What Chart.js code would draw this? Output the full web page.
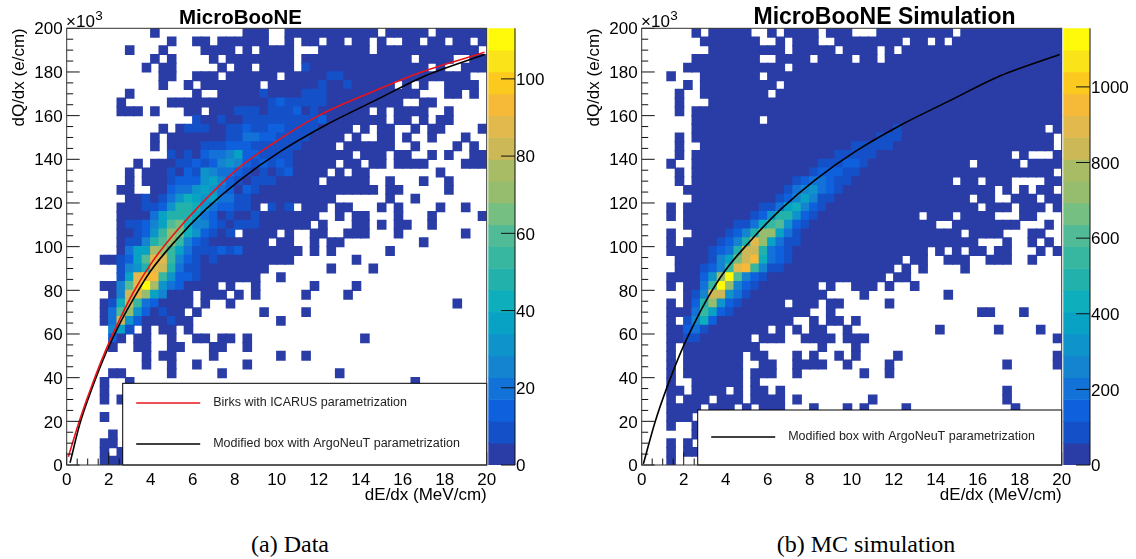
<!DOCTYPE html>
<html lang="en">
<head>
<meta charset="UTF-8">
<title>MicroBooNE dQ/dx vs dE/dx</title>
<script src="https://cdn.jsdelivr.net/npm/chart.js@4"></script>
<style>
  html, body { margin: 0; padding: 0; background: #fff; overflow: hidden; }
  canvas { position: absolute; top: 0; }
  .caption { position: absolute; top: 531px; font: 24px "Liberation Serif", serif; color: #000; transform: translateX(-50%); white-space: nowrap; }
</style>
</head>
<body>
<canvas id="dataChart" width="510" height="510" style="left:0"></canvas>
<canvas id="dataBar" width="70" height="480" style="left:488px"></canvas>
<canvas id="simChart" width="510" height="510" style="left:575px"></canvas>
<canvas id="simBar" width="70" height="480" style="left:1063px"></canvas>
<div class="caption" style="left:290px">(a) Data</div>
<div class="caption" style="left:866px">(b) MC simulation</div>
<script>
// each row is one dQ/dx bin from the top (200) down, each char one dE/dx bin from 0 up
// '.' = empty, otherwise the colour level of the bin in base 36
const dataRows = [
"..........0..........000..00000000000.00000.000000",
"............0..00.000000..0.00.00.00.0..00.00.00.0",
".......0...0....0000.0.0000...000000.000000000000.",
"..........0.0....0.00000000.0000000000000.0000..00",
".........0.00.....0.00.0000.100000000000000.0..000",
"...........00..000.000000.0000011000000000000000..",
"...........0..0.0000000.000000100100000.0.0..0000.",
".......0.......0..000001000011100000000000...00.0.",
"......0.....0000000000001211111000000000..00",
"......000.0...00.0001110111201000000.0.0000..0",
"...............10010011111111120000000.00.0.00",
"...........0.011100112112211110000.0.00..0.00....0",
"..........0.000000011332211110000.0..00.0..0...0",
"..........0.00001112221111110000.000000..0....0.0",
"............1010233462211110000000.000.00..0.0..00",
"........0.0001121245421212100000.00.00.0000....000",
".......0.0001021543321010120000.0.00........0",
".......0.000122256421011100000.00000..0...0..0",
"......00..002335653202100000000000000.00.....0",
".......0010135765633110000000000......0..0",
"......00011258875322110.101.000.00...0.0....0..0",
"......000036888632010010000000..0.00...0...0.....0",
"......011246ab744210111000000.0...00.0.00..0",
"......001259cb752101.0000.0..00..000...0.......0",
"......01148ac94210000000.00..0.00.........0",
"......0366dc9631112120000000.0.0......0",
"....00126aff942101000000000.......0",
"......1458fe831100000000.......0....0",
"......16fgg952210000000..0",
"....004afjd5320000.0..0......0....0",
".....04efc64000.000.0.0.....0....0",
"....017e9320000.0..0..........................0",
"....03ac520100.0.......0....0",
"....03e52000100..........0",
".....461.0.00.0",
".....20.00..0..00.00.0.............0",
".....0..00..00...00..0",
".........0.00....0.......0..0",
".........0..0..0.....0",
".....00.....0.....0.............0",
"....0..0.................................0",
"....0",
"....0.0",
"",
"....0",
"",
".....0",
"....00",
"....0.0",
"....000"
];
const simRows = [
"......0.00000..0.0000.000...000000000.000000000000",
".......0000000..0.000..00000000.00.0.0000000000000",
"........000000000.00000.0000.0.0000000000000000000",
"......00000000..0000.0000.00.000000000000000000000",
".....000000000000.00000000000000000000000000000000",
"...0...0000000.00000000000000000000000000000000000",
".....0.000000000.000000000000000000000000000000000",
"....0..00000000.0000000000000000000000000000000000",
"....0...000000000000000000000000000000000000000000",
"....0.00000000000000000000000000000000000000000000",
"......00000000.00000000000000000000000000000000000",
"......000000000000000000000000100000000000000000.0",
"....0.0000000000000000000000111000000000000000000",
"....0..000000000000000000111110000000000000000000",
"....0.00000000000000000111110000000000000000.0...00",
"...0..000000000000000111221000000000000.00000.0000",
"....0.0000000000000012221100000000000000000000000.0",
"....0.0000000000001233211000000000000.00.000....00",
".....0000000000001345321000000000000000000.0.0.00.",
"......000000000012464110000000000000000.00..000.00",
"...0.00000000011367421000000000000000000.000.000.0",
"...0.0000000012588521000000000000.000.0000...00..",
".....00000011379a521000000000000000..00000000...0.",
"...0..00001248cc6310000000000000000000.0000...00..",
"...0.00001248fc6311000000000000000000000...0..0.0.",
"...000001238ee83210000000000000000.0.0.00.00...0.0",
"....0000146beg73210000000000000.00..000..000..0",
"....0001249fg94110000000000000.0.0....0",
"...000025cja42100000000000000.00",
"...0.0039jc4210000000.0..000.0..0",
".....014ee531000000000....0.........0",
"...0.028c52100000.000.00.....0",
"...00039621000000000..0.................00...0",
"...0.1472000000000..0.00.0",
"...002310000000.0.0.00..0..........0......0....0",
"...0011000000.000..0000.000......................0",
"...0.000000000.......0...0",
"...0.0000000.00...0.0..0.0....0..................0",
"...0.0000000..00..0000..0....0.............0.....0",
"...0.0000000.000..0.......0..0",
"...0..000000.0",
"...00.0000.0.00.0..........................0",
"...0.000.000.0000.0........0...............0",
"...0000.000.0.000...0...0.0....0............0",
"...000",
"...0..0",
"......0",
"...0.0",
"...0.00",
"...0"
];
// colour scale of the two pads
const dataZTicks = [0, 20, 40, 60, 80, 100];
const simZTicks = [0, 200, 400, 600, 800, 1000];
const dataZMax = 113.1;
const simZMax = 1155;
const palette = ["#2a3ca5","#1450c8","#0f60dc","#1272d8","#1484d0","#0e94ca","#08a2c4","#0faebc","#22b2ab","#38b7a0",
  "#50bb96","#76bf82","#96bd6e","#a8bc65","#cdb857","#e2b94c","#f6b938","#fcc91f","#fbe31a","#fff90a"];
// curves
const birksX = [0.08,0.4,0.63,1.22,1.9,2.54,3.17,4,5,6.35,8.25,9.9,12,14.7,16.9,19.9];
const birksY = [3.8,14,21,37,53.5,67,79,92,104.5,119,136.5,147.7,160,171.5,180,189];
const boxX = [0.16,0.63,1.22,1.9,2.54,3.17,3.97,5.16,6.67,8.25,10.16,12.3,14.7,16.9,19.9];
const boxY = [1,19,35.5,52,65,76,88.5,102.5,117.5,130.5,143.5,155.5,167,177.5,188];
const simBoxX = [0.08,0.63,1.22,1.9,2.54,3.17,3.97,5.16,6.67,8.25,10.16,12.3,14.7,16.9,19.9];
const simBoxY = [0.5,19.5,36,52.5,65.5,77,89,102.5,117.5,130.5,143.5,155.5,167,177.5,188];

const NBINS = 50, XMAX = 20, YMAX = 200;
const FONT = '"Liberation Sans", Arial, sans-serif';

function cellsFromRows(rows) {
  const cells = [];
  const dx = XMAX / NBINS, dy = YMAX / NBINS;
  rows.forEach((row, r) => {
    for (let c = 0; c < row.length; c++) {
      if (row[c] === '.') continue;
      const hi = YMAX - r * dy;
      cells.push({ x: (c + 0.5) * dx, y: [hi - dy, hi], level: parseInt(row[c], 36) });
    }
  });
  return cells;
}

function points(xs, ys) {
  return xs.map((x, i) => ({ x: x, y: ys[i] }));
}

// ROOT style inward ticks, frame, pad title, legend box and the x10^3 label
const padDecor = {
  id: 'padDecor',
  afterDatasetsDraw(chart, args, opts) {
    const ctx = chart.ctx;
    const { left, right, top, bottom } = chart.chartArea;
    const sx = chart.scales.x, sy = chart.scales.y;
    ctx.save();
    ctx.strokeStyle = '#111';
    ctx.lineWidth = 1;
    ctx.beginPath();
    for (let v = 0; v <= XMAX; v += 0.5) {
      const px = sx.getPixelForValue(v);
      ctx.moveTo(px, bottom);
      ctx.lineTo(px, bottom - (v % 2 === 0 ? 12.5 : 6.5));
    }
    for (let v = 0; v <= YMAX; v += 5) {
      const py = sy.getPixelForValue(v);
      ctx.moveTo(left, py);
      ctx.lineTo(left + (v % 20 === 0 ? 13 : 6.5), py);
    }
    ctx.stroke();

    const lg = opts.legend;
    ctx.fillStyle = '#fff';
    ctx.fillRect(lg.left, lg.top, right - lg.left, bottom - lg.top);
    ctx.strokeStyle = '#000';
    ctx.strokeRect(lg.left, lg.top, right - lg.left, bottom - lg.top);
    ctx.font = '12.5px ' + FONT;
    ctx.textAlign = 'left';
    ctx.textBaseline = 'middle';
    chart.data.datasets.filter(d => d.type === 'line').forEach((d, i) => {
      const ly = lg.rows[i];
      ctx.strokeStyle = d.borderColor;
      ctx.lineWidth = 1.5;
      ctx.beginPath();
      ctx.moveTo(lg.left + 13.5, ly);
      ctx.lineTo(lg.left + 77.5, ly);
      ctx.stroke();
      ctx.fillStyle = '#222';
      ctx.fillText(d.label, lg.left + 90.5, ly);
    });

    ctx.strokeStyle = '#333';
    ctx.lineWidth = 1;
    ctx.strokeRect(left, top, right - left, bottom - top);

    ctx.fillStyle = '#000';
    ctx.textBaseline = 'alphabetic';
    ctx.textAlign = 'center';
    ctx.font = 'bold ' + opts.titleSize + 'px ' + FONT;
    ctx.fillText(opts.title, opts.titleX, 24);
    ctx.textAlign = 'left';
    ctx.font = '17px ' + FONT;
    ctx.fillText('\u00d710', left - 0.7, 26.7);
    ctx.font = '13.5px ' + FONT;
    ctx.fillText('3', left + 28.5, 20);
    ctx.restore();
  }
};

function makePad(id, rows, curves, opts) {
  const lines = curves.map(c => ({
    type: 'line', label: c.label, data: c.data, borderColor: c.color, borderWidth: 1.6,
    pointRadius: 0, cubicInterpolationMode: 'monotone', order: 0
  }));
  new Chart(document.getElementById(id), {
    type: 'bar',
    data: {
      datasets: [{
        data: cellsFromRows(rows),
        backgroundColor: c => palette[c.raw ? c.raw.level : 0],
        barThickness: 8.4,
        inflateAmount: 0.6,
        order: 1
      }].concat(lines)
    },
    options: {
      responsive: false,
      animation: false,
      devicePixelRatio: 1,
      layout: { padding: { top: 28.3, right: 23.3 } },
      plugins: { legend: { display: false }, tooltip: { enabled: false }, padDecor: opts },
      scales: {
        x: {
          type: 'linear', min: 0, max: XMAX, offset: false,
          grid: { display: false, drawTicks: false }, border: { display: false },
          ticks: { stepSize: 2, padding: 5, color: '#000', maxRotation: 0, font: { size: 17, family: FONT } },
          title: { display: true, text: 'dE/dx (MeV/cm)', align: 'end', color: '#000', padding: { bottom: 4 }, font: { size: 17, family: FONT } },
          afterFit: s => { s.height = 45; s.paddingLeft = 0; s.paddingRight = 0; }
        },
        y: {
          min: 0, max: YMAX,
          grid: { display: false, drawTicks: false }, border: { display: false },
          ticks: { stepSize: 20, padding: 4, labelOffset: 1.5, color: '#000', font: { size: 17, family: FONT } },
          title: { display: true, text: 'dQ/dx (e/cm)', align: 'end', color: '#000', padding: { top: 9 }, font: { size: 17, family: FONT } },
          afterFit: s => { s.width = 66.7; s.paddingTop = 0; s.paddingBottom = 0; }
        }
      }
    },
    plugins: [padDecor]
  });
}

const zAxisLine = {
  id: 'zAxisLine',
  afterDatasetsDraw(chart) {
    const ctx = chart.ctx;
    const { right, top, bottom } = chart.chartArea;
    const sy = chart.scales.y;
    ctx.save();
    ctx.strokeStyle = '#111';
    ctx.lineWidth = 1;
    ctx.beginPath();
    ctx.moveTo(right, top);
    ctx.lineTo(right, bottom);
    sy.ticks.forEach(t => {
      const py = sy.getPixelForValue(t.value);
      ctx.moveTo(right, py);
      ctx.lineTo(right - 14, py);
    });
    ctx.stroke();
    ctx.restore();
  }
};

function makeColorBar(id, zTicks, zMax) {
  const step = zMax / palette.length;
  new Chart(document.getElementById(id), {
    type: 'bar',
    data: {
      datasets: [{
        data: palette.map((col, i) => ({ x: 0.5, y: [i * step, (i + 1) * step] })),
        backgroundColor: palette,
        barThickness: 26.7
      }]
    },
    options: {
      responsive: false,
      animation: false,
      devicePixelRatio: 1,
      layout: { padding: { top: 28.3, left: 0.3, bottom: 15 } },
      plugins: { legend: { display: false }, tooltip: { enabled: false } },
      scales: {
        x: { type: 'linear', min: 0, max: 1, offset: false, display: false },
        y: {
          position: 'right', min: 0, max: zMax,
          afterBuildTicks: s => { s.ticks = zTicks.map(v => ({ value: v })); },
          grid: { display: false, drawTicks: false }, border: { display: false },
          ticks: { padding: 1, labelOffset: 1.5, color: '#000', font: { size: 17, family: FONT }, callback: v => String(v) },
          afterFit: s => { s.width = 43; s.paddingTop = 0; s.paddingBottom = 0; }
        }
      }
    },
    plugins: [zAxisLine]
  });
}

makePad('dataChart', dataRows, [
  { label: 'Birks with ICARUS parametrization', color: '#e8141c', data: points(birksX, birksY) },
  { label: 'Modified box with ArgoNeuT parametrization', color: '#000', data: points(boxX, boxY) }
], { title: 'MicroBooNE', titleX: 240.5, titleSize: 20.5, legend: { left: 122.7, top: 383.3, rows: [403, 444] } });

makePad('simChart', simRows, [
  { label: 'Modified box with ArgoNeuT parametrization', color: '#000', data: points(simBoxX, simBoxY) }
], { title: 'MicroBooNE Simulation', titleX: 309.5, titleSize: 23, legend: { left: 122.7, top: 410, rows: [437] } });

makeColorBar('dataBar', dataZTicks, dataZMax);
makeColorBar('simBar', simZTicks, simZMax);
</script>
</body>
</html>
